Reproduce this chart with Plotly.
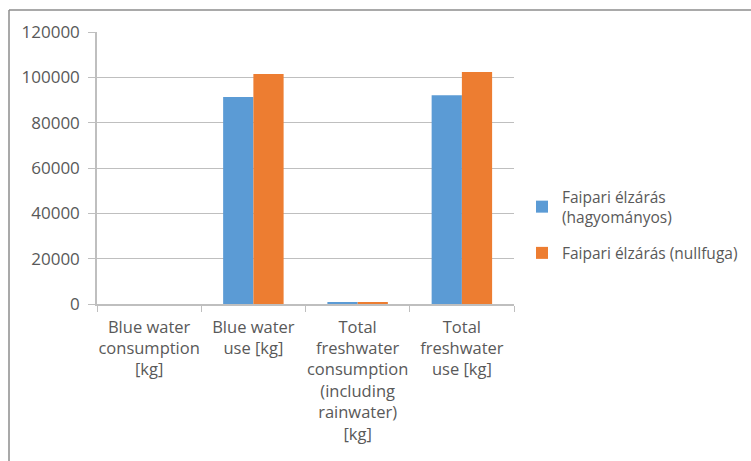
import plotly.graph_objects as go

# Water footprint indicators for the two wood-industry sealing variants
categories = [
    "Blue water<br>consumption<br>[kg]",
    "Blue water<br>use [kg]",
    "Total<br>freshwater<br>consumption<br>(including<br>rainwater)<br>[kg]",
    "Total<br>freshwater<br>use [kg]",
]
series_names = [
    "Faipari élzárás<br>(hagyományos)",
    "Faipari élzárás (nullfuga)",
]
hagyomanyos = [0, 91300, 750, 92100]
nullfuga = [0, 101500, 780, 102300]
y_ticks = [0, 20000, 40000, 60000, 80000, 100000, 120000]

colors = ["#5b9bd5", "#ed7d31"]
font_family = "Open Sans"
text_color = "#595959"

W, H = 751, 461
ML, MR, MT, MB = 97, 237, 32, 157

fig = go.Figure()
for i, (name, vals, col) in enumerate(zip(series_names, [hagyomanyos, nullfuga], colors)):
    fig.add_trace(go.Bar(x=categories, y=vals, name=name, marker_color=col,
                         marker_line_width=0, legendgroup=f"g{i}"))

plot_w = W - ML - MR
plot_h = H - MT - MB


def px_to_paper_x(px):
    return (px - ML) / plot_w


def px_to_paper_y(py):
    return (H - MB - py) / plot_h


# Outer chart frame (left and top edges visible)
frame = dict(type="line", xref="paper", yref="paper",
             line=dict(color="#8c8c8c", width=1.5))
fig.add_shape(**frame, x0=px_to_paper_x(9), x1=px_to_paper_x(9),
              y0=px_to_paper_y(10), y1=px_to_paper_y(470))
fig.add_shape(**frame, x0=px_to_paper_x(9), x1=px_to_paper_x(760),
              y0=px_to_paper_y(10), y1=px_to_paper_y(10))

fig.update_layout(
    width=W, height=H,
    margin=dict(l=ML, r=MR, t=MT, b=MB, pad=0, autoexpand=False),
    paper_bgcolor="white", plot_bgcolor="white",
    font=dict(family=font_family, size=17, color=text_color),
    barmode="group", bargap=0.42, bargroupgap=0,
    showlegend=True,
    legend=dict(x=px_to_paper_x(522), y=px_to_paper_y(180),
                xanchor="left", yanchor="top",
                font=dict(family=font_family, size=15.5, color=text_color),
                tracegroupgap=13, itemwidth=30, bgcolor="rgba(0,0,0,0)"),
)
fig.update_xaxes(
    automargin=False, tickangle=0,
    showline=True, linecolor="#bfbfbf", linewidth=1.5,
    ticks="outside", ticklen=6, tickcolor="#bfbfbf",
    tickson="boundaries", showgrid=False, ticklabelstandoff=7,
    tickfont=dict(family=font_family, size=16.5, color=text_color),
)
fig.update_yaxes(
    automargin=False,
    range=[0, 120000], tickvals=y_ticks,
    ticktext=[str(v) for v in y_ticks],
    showline=True, linecolor="#bfbfbf", linewidth=1.5,
    ticks="outside", ticklen=7, tickcolor="#bfbfbf",
    showgrid=True, gridcolor="#bfbfbf", gridwidth=1.2,
    zeroline=False, ticklabelstandoff=5,
    tickfont=dict(family=font_family, size=17, color=text_color),
)

fig.write_html("out.html")
